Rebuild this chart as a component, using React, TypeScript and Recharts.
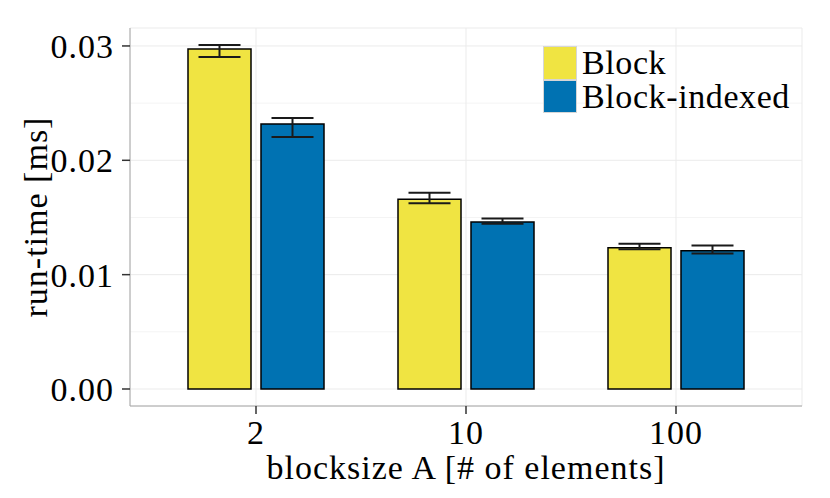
import { BarChart, Bar, XAxis, YAxis, CartesianGrid, ErrorBar, Legend } from 'recharts';

const categories = ['2', '10', '100'];
const blockMean = [0.02974, 0.01659, 0.01236];
const blockLow = [0.02904, 0.01624, 0.01222];
const blockHigh = [0.03009, 0.01717, 0.01271];
const indexedMean = [0.02318, 0.01461, 0.0121];
const indexedLow = [0.02204, 0.01446, 0.01184];
const indexedHigh = [0.0237, 0.0149, 0.01254];

const yTicks = [0, 0.01, 0.02, 0.03];
const yMinorTicks = [0.005, 0.015, 0.025];

const COLORS = {
  block: '#F0E442',
  indexed: '#0072B2',
};

const FONT = '"Liberation Serif", "Times New Roman", serif';

const data = categories.map((c, i) => ({
  size: c,
  block: blockMean[i],
  blockErr: [blockMean[i] - blockLow[i], blockHigh[i] - blockMean[i]],
  indexed: indexedMean[i],
  indexedErr: [indexedMean[i] - indexedLow[i], indexedHigh[i] - indexedMean[i]],
}));

const legendItems = [
  { name: 'Block', color: COLORS.block },
  { name: 'Block-indexed', color: COLORS.indexed },
];

function LegendBox() {
  return (
    <div style={{ fontFamily: FONT, fontSize: 34, lineHeight: '33.5px', color: '#000' }}>
      {legendItems.map((item) => (
        <div key={item.name} style={{ display: 'flex', alignItems: 'center' }}>
          <div
            style={{
              width: 34,
              height: 33.5,
              backgroundColor: item.color,
              boxSizing: 'border-box',
              border: '1px solid #d6d6d6',
              marginRight: 5,
            }}
          />
          <span style={{ letterSpacing: 0.6 }}>{item.name}</span>
        </div>
      ))}
    </div>
  );
}

export default function App() {
  const tickStyle = { fontFamily: FONT, fontSize: 34, fill: '#000', letterSpacing: 1 };
  return (
    <div style={{ position: 'absolute', left: 0, top: 0, background: '#fff' }}>
      <BarChart
        width={830}
        height={498}
        data={data}
        margin={{ top: 28, right: 28, bottom: 0, left: 0 }}
        barGap={10}
      >
        <CartesianGrid stroke="#f4f4f4" vertical={false} horizontalValues={yMinorTicks} />
        <CartesianGrid stroke="#ebebeb" />
        <XAxis
          dataKey="size"
          padding={{ left: 21, right: 21 }}
          height={92}
          tickSize={8}
          tickMargin={6}
          tick={tickStyle}
          axisLine={{ stroke: '#a6a6a6' }}
          tickLine={{ stroke: '#333', strokeWidth: 1.5 }}
          label={{
            value: 'blocksize A [# of elements]',
            position: 'insideBottom',
            offset: 19,
            style: { fontFamily: FONT, fontSize: 34, fill: '#000', letterSpacing: 1 },
          }}
        />
        <XAxis
          xAxisId="top"
          dataKey="size"
          orientation="top"
          height={0}
          tick={false}
          tickLine={false}
          axisLine={{ stroke: '#a6a6a6' }}
        />
        <YAxis
          width={130}
          domain={[-0.001487, 0.03157]}
          ticks={yTicks}
          allowDataOverflow
          tickFormatter={(v: number) => v.toFixed(2)}
          tickSize={8}
          tickMargin={8}
          tick={tickStyle}
          axisLine={{ stroke: '#a6a6a6' }}
          tickLine={{ stroke: '#333', strokeWidth: 1.5 }}
          label={{
            value: 'run-time [ms]',
            angle: -90,
            position: 'insideLeft',
            offset: 35,
            style: { textAnchor: 'middle', fontFamily: FONT, fontSize: 34, fill: '#000', letterSpacing: 1 },
          }}
        />
        <YAxis
          yAxisId="right"
          orientation="right"
          width={0}
          tick={false}
          tickLine={false}
          axisLine={{ stroke: '#a6a6a6' }}
        />
        <Legend
          layout="vertical"
          align="center"
          verticalAlign="middle"
          content={() => <LegendBox />}
          wrapperStyle={{ top: 46, left: 543, width: 'auto' }}
        />
        <Bar
          dataKey="block"
          name="Block"
          fill={COLORS.block}
          stroke="#000"
          strokeWidth={1.5}
          barSize={63}
          isAnimationActive={false}
        >
          <ErrorBar dataKey="blockErr" width={21} stroke="#1a1a1a" strokeWidth={2} />
        </Bar>
        <Bar
          dataKey="indexed"
          name="Block-indexed"
          fill={COLORS.indexed}
          stroke="#000"
          strokeWidth={1.5}
          barSize={63}
          isAnimationActive={false}
        >
          <ErrorBar dataKey="indexedErr" width={21} stroke="#1a1a1a" strokeWidth={2} />
        </Bar>
      </BarChart>
    </div>
  );
}
